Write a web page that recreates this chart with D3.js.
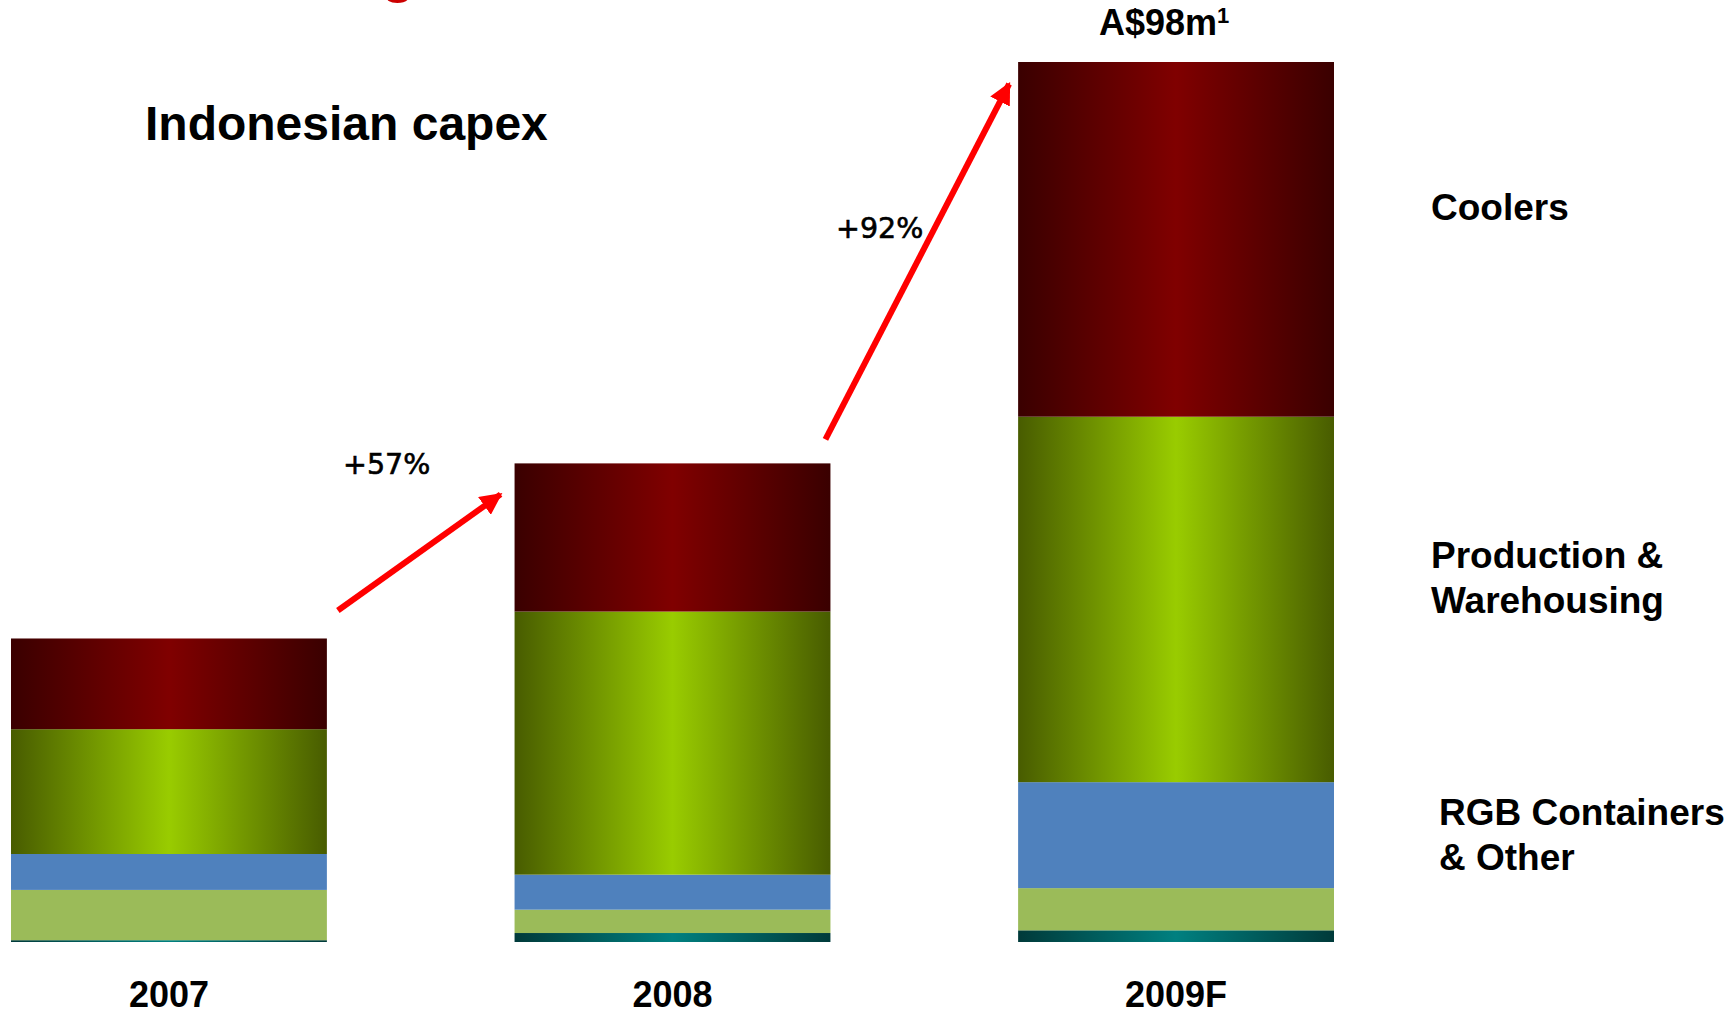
<!DOCTYPE html>
<html>
<head>
<meta charset="utf-8">
<script src="https://cdn.jsdelivr.net/npm/d3@7"></script>
<style>
  html, body { margin: 0; padding: 0; background: #ffffff; }
  svg { display: block; }
</style>
</head>
<body>
<svg id="chart" width="1730" height="1010"></svg>
<script>
// Indonesian capex by category, A$m (stacked bottom to top)
const years = ["2007", "2008", "2009F"];
const misc       = [0.2, 1.0, 1.3];
const other      = [5.6, 2.6, 4.7];
const rgb        = [4.0, 3.9, 11.8];
const production = [13.9, 29.3, 40.7];
const coolers    = [10.1, 16.5, 39.5];

const growthLabels = ["+57%", "+92%"];
const totalLabel = "A$98m";
const legendLabels = [
  ["Coolers"],
  ["Production &", "Warehousing"],
  ["RGB Containers", "& Other"]
];

const keys = ["misc", "other", "rgb", "production", "coolers"];
const rows = years.map((y, i) => ({
  year: y, misc: misc[i], other: other[i], rgb: rgb[i],
  production: production[i], coolers: coolers[i]
}));

const svg = d3.select("#chart");

const x = d3.scaleBand().domain(years).range([11, 1334]).paddingInner(0.3727).paddingOuter(0);
const y = d3.scaleLinear().domain([0, 98]).range([942, 62]);

// Horizontal "cylinder" shading for the layers
const defs = svg.append("defs");
function shade(id, edge, mid) {
  const g = defs.append("linearGradient").attr("id", id)
    .attr("x1", "0%").attr("x2", "100%").attr("y1", "0%").attr("y2", "0%");
  g.append("stop").attr("offset", "0%").attr("stop-color", edge);
  g.append("stop").attr("offset", "50%").attr("stop-color", mid);
  g.append("stop").attr("offset", "100%").attr("stop-color", edge);
}
shade("gCoolers", "#3a0000", "#800000");
shade("gProd", "#485c00", "#99cc00");
shade("gMisc", "#003a3a", "#008080");

const fills = {
  misc: "url(#gMisc)",
  other: "#9bbb59",
  rgb: "#4f81bd",
  production: "url(#gProd)",
  coolers: "url(#gCoolers)"
};

// Red slide heading, only its lower edge falls inside the frame
svg.append("text")
  .attr("x", 381).attr("y", -9)
  .attr("font-family", "Liberation Sans, Arial, sans-serif")
  .attr("font-weight", "bold").attr("font-size", 56)
  .attr("fill", "#cc0000")
  .text("g");

svg.append("text")
  .attr("x", 145).attr("y", 140)
  .attr("font-family", "Liberation Sans, Arial, sans-serif")
  .attr("font-weight", "bold").attr("font-size", 48)
  .attr("fill", "#000")
  .text("Indonesian capex");

// Stacked bars
const series = d3.stack().keys(keys)(rows);
svg.append("g").selectAll("g")
  .data(series).join("g")
  .attr("fill", d => fills[d.key])
  .selectAll("rect")
  .data(d => d).join("rect")
  .attr("x", d => x(d.data.year))
  .attr("width", x.bandwidth())
  .attr("y", d => y(d[1]))
  .attr("height", d => y(d[0]) - y(d[1]));

// Category (year) labels
svg.append("g").selectAll("text")
  .data(years).join("text")
  .attr("x", d => x(d) + x.bandwidth() / 2)
  .attr("y", 1007)
  .attr("text-anchor", "middle")
  .attr("font-family", "Liberation Sans, Arial, sans-serif")
  .attr("font-weight", "bold").attr("font-size", 36)
  .attr("fill", "#000")
  .text(d => d);

// Total label over the last bar
const totals = rows.map(r => keys.reduce((s, k) => s + r[k], 0));
const last = years.length - 1;
const tl = svg.append("text")
  .attr("x", x(years[last]) + x.bandwidth() / 2 - 12)
  .attr("y", y(totals[last]) - 27)
  .attr("text-anchor", "middle")
  .attr("font-family", "Liberation Sans, Arial, sans-serif")
  .attr("font-weight", "bold").attr("font-size", 36)
  .attr("fill", "#000");
tl.append("tspan").text(totalLabel);
tl.append("tspan").attr("font-size", 22).attr("dy", -12).text("1");

// Growth percentages
const pctPos = [[343, 474], [836, 238]];
svg.append("g").selectAll("text")
  .data(growthLabels).join("text")
  .attr("x", (d, i) => pctPos[i][0])
  .attr("y", (d, i) => pctPos[i][1])
  .attr("font-family", "DejaVu Sans, Verdana, sans-serif")
  .attr("font-size", 28.5)
  .attr("fill", "#000")
  .attr("stroke", "#000").attr("stroke-width", 0.6)
  .text(d => d);

// Growth arrows from the top of one bar towards the next
defs.append("marker").attr("id", "arrowHead")
  .attr("viewBox", "0 0 10 10").attr("refX", 9).attr("refY", 5)
  .attr("markerUnits", "userSpaceOnUse")
  .attr("markerWidth", 22).attr("markerHeight", 22)
  .attr("orient", "auto")
  .append("path").attr("d", "M0,0 L10,5 L0,10 Z").attr("fill", "#ff0000");

const arrows = [
  { x1: x(years[0]) + x.bandwidth() + 11, y1: y(totals[0]) - 28,
    x2: x(years[1]) - 14, y2: y(totals[1]) + 31 },
  { x1: x(years[1]) + x.bandwidth() - 5, y1: y(totals[1]) - 24,
    x2: x(years[2]) - 9, y2: y(totals[2]) + 22 }
];
svg.append("g").selectAll("line")
  .data(arrows).join("line")
  .attr("x1", d => d.x1).attr("y1", d => d.y1)
  .attr("x2", d => d.x2).attr("y2", d => d.y2)
  .attr("stroke", "#ff0000").attr("stroke-width", 6)
  .attr("marker-end", "url(#arrowHead)");

// Category legend on the right
const legendPos = [[1431, 220], [1431, 568], [1439, 825]];
legendLabels.forEach((lines, i) => {
  const t = svg.append("text")
    .attr("x", legendPos[i][0]).attr("y", legendPos[i][1])
    .attr("font-family", "Liberation Sans, Arial, sans-serif")
    .attr("font-weight", "bold").attr("font-size", 37)
    .attr("fill", "#000");
  lines.forEach((l, j) => {
    t.append("tspan").attr("x", legendPos[i][0]).attr("dy", j === 0 ? 0 : 45).text(l);
  });
});
</script>
</body>
</html>
